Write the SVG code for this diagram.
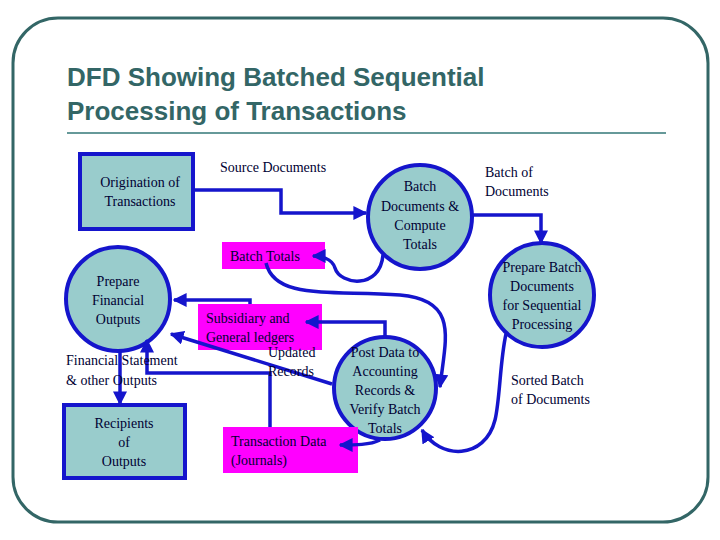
<svg xmlns="http://www.w3.org/2000/svg" width="720" height="540" viewBox="0 0 720 540">
<defs>
<marker id="ah" viewBox="0 0 10 10" refX="9" refY="5" markerWidth="4" markerHeight="4" orient="auto"><path d="M0,0 L10,5 L0,10 z" fill="#1515CC"/></marker>
<style>
.pr{fill:#99CCCC;stroke:#1515CC;stroke-width:4}
.st{fill:#FF00FF}
.t{font-family:"Liberation Serif",serif;font-size:14px;fill:#000033;text-anchor:middle}
.l{font-family:"Liberation Serif",serif;font-size:14px;fill:#000033}
.c{fill:none;stroke:#1515CC;stroke-width:3.5;marker-end:url(#ah)}
</style>
</defs>
<rect width="720" height="540" fill="#fff"/>
<rect x="13" y="18" width="695" height="504" rx="45" fill="none" stroke="#336666" stroke-width="3"/>
<text x="67" y="86" font-family="Liberation Sans,sans-serif" font-weight="bold" font-size="26" fill="#336666">DFD Showing Batched Sequential</text>
<text x="67" y="120" font-family="Liberation Sans,sans-serif" font-weight="bold" font-size="26" fill="#336666">Processing of Transactions</text>
<line x1="67" y1="133" x2="666" y2="133" stroke="#669999" stroke-width="2"/>
<g id="orig"><rect class="pr" x="80" y="154" width="113" height="75"/><text class="t" x="140" y="187">Origination of</text><text class="t" x="140" y="206">Transactions</text></g>
<g id="batch"><circle class="pr" cx="420" cy="217" r="52"/><text class="t" x="420" y="191">Batch</text><text class="t" x="420" y="211">Documents &amp;</text><text class="t" x="420" y="230">Compute</text><text class="t" x="420" y="249">Totals</text></g>
<g id="prepbatch"><circle class="pr" cx="542" cy="295" r="52"/><text class="t" x="542" y="272">Prepare Batch</text><text class="t" x="542" y="291">Documents</text><text class="t" x="542" y="310">for Sequential</text><text class="t" x="542" y="329">Processing</text></g>
<g id="post"><circle class="pr" cx="385" cy="388" r="51"/><text class="t" x="385" y="357">Post Data to</text><text class="t" x="385" y="376">Accounting</text><text class="t" x="385" y="395">Records &amp;</text><text class="t" x="385" y="414">Verify Batch</text><text class="t" x="385" y="433">Totals</text></g>
<g id="prepfin"><circle class="pr" cx="118" cy="299" r="52"/><text class="t" x="118" y="286">Prepare</text><text class="t" x="118" y="305">Financial</text><text class="t" x="118" y="324">Outputs</text></g>
<g id="recip"><rect class="pr" x="64" y="405" width="121" height="73"/><text class="t" x="124" y="428">Recipients</text><text class="t" x="124" y="447">of</text><text class="t" x="124" y="466">Outputs</text></g>
<g id="btotals"><rect class="st" x="222" y="242" width="103" height="27"/><text class="l" x="230" y="261">Batch Totals</text></g>
<g id="ledgers"><rect class="st" x="198" y="304" width="124" height="46"/><text class="l" x="206" y="323">Subsidiary and</text><text class="l" x="206" y="342">General ledgers</text></g>
<g id="trans"><rect class="st" x="223" y="427" width="135" height="46"/><text class="l" x="231" y="446">Transaction Data</text><text class="l" x="231" y="465">(Journals)</text></g>
<g id="connectors">
<path class="c" d="M193,190 H281 V213 H366"/>
<path class="c" d="M472,215 H541 V243"/>
<path class="c" d="M383,255 C380,290 340,285 335,268 C332,258 320,256 313,256"/>
<path class="c" d="M266,263 C275,300 330,290 400,295 C460,300 445,340 440,387"/>
<path class="c" d="M506,334 C500,360 500,400 495,420 C485,460 440,460 422,430"/>
<path class="c" d="M385,337 V322 H306"/>
<path class="c" d="M250,304 V300 H174"/>
<path class="c" d="M332,384 L171,334"/>
<path class="c" d="M270,427 V373 H147 V340"/>
<path class="c" d="M380,440 C370,445 355,445 340,445"/>
<path class="c" d="M120,351 V404"/>
</g>
<text class="l" x="220" y="172">Source Documents</text>
<text class="l" x="485" y="177">Batch of</text><text class="l" x="485" y="196">Documents</text>
<text class="l" x="511" y="385">Sorted Batch</text><text class="l" x="511" y="404">of Documents</text>
<text class="l" x="268" y="357">Updated</text><text class="l" x="268" y="376">Records</text>
<text class="l" x="66" y="365">Financial Statement</text><text class="l" x="66" y="385">&amp; other Outputs</text>
</svg>
